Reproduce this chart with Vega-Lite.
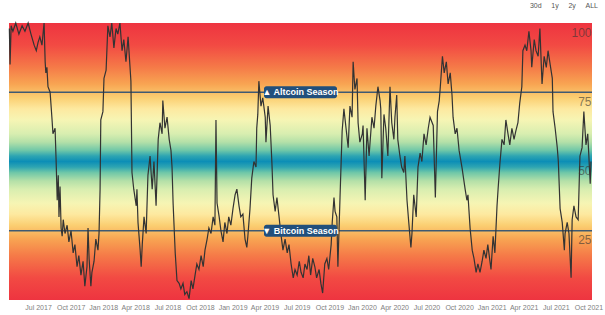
{
  "$schema": "https://vega.github.io/schema/vega-lite/v6.json",
  "autosize": {"type": "none"},
  "width": 583,
  "height": 277,
  "padding": {"left": 9, "top": 23, "right": 13, "bottom": 15},
  "background": "white",
  "view": {"stroke": null},
  "title": {"text": "30d\u00a0\u00a0\u00a0\u00a0\u00a01y\u00a0\u00a0\u00a0\u00a0\u00a02y\u00a0\u00a0\u00a0\u00a0\u00a0ALL", "anchor": "end", "frame": "group", "fontSize": 7, "fontWeight": "normal", "color": "#555", "font": "Liberation Sans", "offset": 6, "dx": 6, "baseline": "alphabetic"},
  "datasets": {
    "series": [
      {"date":"2017-04-11","value":98},{"date":"2017-04-13","value":85},{"date":"2017-04-16","value":99},{"date":"2017-04-21","value":97},{"date":"2017-04-29","value":100},
      {"date":"2017-05-08","value":96},{"date":"2017-05-17","value":99},{"date":"2017-05-25","value":97},{"date":"2017-06-03","value":100},{"date":"2017-06-11","value":96},
      {"date":"2017-06-20","value":92},{"date":"2017-06-26","value":90},{"date":"2017-07-01","value":93},{"date":"2017-07-06","value":95},{"date":"2017-07-12","value":92},
      {"date":"2017-07-18","value":100},{"date":"2017-07-21","value":86},{"date":"2017-07-23","value":82},{"date":"2017-07-26","value":84},{"date":"2017-07-29","value":77},
      {"date":"2017-08-04","value":75},{"date":"2017-08-09","value":66},{"date":"2017-08-12","value":60},{"date":"2017-08-18","value":62},{"date":"2017-08-21","value":50},
      {"date":"2017-08-24","value":36},{"date":"2017-08-27","value":45},{"date":"2017-08-29","value":30},{"date":"2017-09-01","value":41},{"date":"2017-09-04","value":26},
      {"date":"2017-09-07","value":23},{"date":"2017-09-10","value":29},{"date":"2017-09-15","value":24},{"date":"2017-09-21","value":27},{"date":"2017-09-26","value":21},
      {"date":"2017-10-02","value":25},{"date":"2017-10-08","value":17},{"date":"2017-10-13","value":20},{"date":"2017-10-19","value":12},{"date":"2017-10-24","value":16},
      {"date":"2017-10-30","value":9},{"date":"2017-11-05","value":14},{"date":"2017-11-10","value":5},{"date":"2017-11-16","value":12},{"date":"2017-11-19","value":26},
      {"date":"2017-11-22","value":15},{"date":"2017-11-27","value":5},{"date":"2017-11-30","value":10},{"date":"2017-12-06","value":14},{"date":"2017-12-11","value":22},
      {"date":"2017-12-17","value":18},{"date":"2017-12-20","value":24},{"date":"2017-12-23","value":40},{"date":"2017-12-25","value":65},{"date":"2017-12-31","value":68},
      {"date":"2018-01-03","value":80},{"date":"2018-01-09","value":83},{"date":"2018-01-14","value":99},{"date":"2018-01-20","value":95},{"date":"2018-01-25","value":100},
      {"date":"2018-01-31","value":91},{"date":"2018-02-06","value":98},{"date":"2018-02-11","value":96},{"date":"2018-02-17","value":100},{"date":"2018-02-23","value":90},
      {"date":"2018-02-28","value":94},{"date":"2018-03-06","value":86},{"date":"2018-03-12","value":95},{"date":"2018-03-17","value":85},{"date":"2018-03-20","value":79},
      {"date":"2018-03-23","value":46},{"date":"2018-03-28","value":40},{"date":"2018-04-04","value":34},{"date":"2018-04-06","value":40},{"date":"2018-04-09","value":28},
      {"date":"2018-04-15","value":18},{"date":"2018-04-18","value":12},{"date":"2018-04-21","value":20},{"date":"2018-04-26","value":30},{"date":"2018-05-02","value":24},
      {"date":"2018-05-07","value":45},{"date":"2018-05-13","value":52},{"date":"2018-05-19","value":40},{"date":"2018-05-24","value":50},{"date":"2018-05-30","value":34},
      {"date":"2018-06-05","value":58},{"date":"2018-06-10","value":64},{"date":"2018-06-16","value":60},{"date":"2018-06-18","value":72},{"date":"2018-06-24","value":62},
      {"date":"2018-06-30","value":66},{"date":"2018-07-06","value":58},{"date":"2018-07-11","value":54},{"date":"2018-07-14","value":48},{"date":"2018-07-17","value":35},
      {"date":"2018-07-23","value":17},{"date":"2018-07-28","value":7},{"date":"2018-08-03","value":6},{"date":"2018-08-08","value":4},{"date":"2018-08-14","value":6},
      {"date":"2018-08-19","value":2},{"date":"2018-08-25","value":3},{"date":"2018-08-31","value":0.5},{"date":"2018-09-06","value":7},{"date":"2018-09-11","value":4},
      {"date":"2018-09-17","value":9},{"date":"2018-09-22","value":13},{"date":"2018-09-28","value":11},{"date":"2018-10-04","value":16},{"date":"2018-10-10","value":12},
      {"date":"2018-10-15","value":18},{"date":"2018-10-21","value":22},{"date":"2018-10-26","value":26},{"date":"2018-11-01","value":24},{"date":"2018-11-07","value":30},
      {"date":"2018-11-12","value":27},{"date":"2018-11-15","value":65},{"date":"2018-11-18","value":35},{"date":"2018-11-24","value":30},{"date":"2018-11-29","value":25},
      {"date":"2018-12-05","value":21},{"date":"2018-12-10","value":28},{"date":"2018-12-16","value":24},{"date":"2018-12-21","value":30},{"date":"2018-12-27","value":27},
      {"date":"2019-01-02","value":33},{"date":"2019-01-08","value":38},{"date":"2019-01-13","value":40},{"date":"2019-01-19","value":34},{"date":"2019-01-24","value":30},
      {"date":"2019-01-30","value":31},{"date":"2019-02-05","value":22},{"date":"2019-02-10","value":19},{"date":"2019-02-13","value":23},{"date":"2019-02-19","value":33},
      {"date":"2019-02-24","value":44},{"date":"2019-03-02","value":50},{"date":"2019-03-08","value":48},{"date":"2019-03-10","value":62},{"date":"2019-03-13","value":67},
      {"date":"2019-03-16","value":79},{"date":"2019-03-22","value":70},{"date":"2019-03-27","value":73},{"date":"2019-04-03","value":66},{"date":"2019-04-05","value":57},
      {"date":"2019-04-11","value":70},{"date":"2019-04-17","value":63},{"date":"2019-04-22","value":49},{"date":"2019-04-25","value":38},{"date":"2019-05-01","value":32},
      {"date":"2019-05-06","value":37},{"date":"2019-05-12","value":30},{"date":"2019-05-17","value":24},{"date":"2019-05-23","value":18},{"date":"2019-05-29","value":22},
      {"date":"2019-06-04","value":17},{"date":"2019-06-09","value":20},{"date":"2019-06-15","value":13},{"date":"2019-06-21","value":8},{"date":"2019-06-26","value":11},
      {"date":"2019-07-02","value":9},{"date":"2019-07-08","value":14},{"date":"2019-07-13","value":10},{"date":"2019-07-19","value":8},{"date":"2019-07-24","value":13},
      {"date":"2019-07-30","value":11},{"date":"2019-08-04","value":16},{"date":"2019-08-09","value":9},{"date":"2019-08-15","value":15},{"date":"2019-08-21","value":12},
      {"date":"2019-08-26","value":8},{"date":"2019-09-02","value":11},{"date":"2019-09-07","value":6},{"date":"2019-09-12","value":2.5},{"date":"2019-09-18","value":13},
      {"date":"2019-09-24","value":15},{"date":"2019-09-29","value":11},{"date":"2019-10-06","value":20},{"date":"2019-10-09","value":28},{"date":"2019-10-14","value":37},
      {"date":"2019-10-17","value":32},{"date":"2019-10-22","value":30},{"date":"2019-10-25","value":12},{"date":"2019-10-31","value":37},{"date":"2019-11-06","value":61},
      {"date":"2019-11-11","value":69},{"date":"2019-11-17","value":62},{"date":"2019-11-23","value":55},{"date":"2019-11-28","value":70},{"date":"2019-12-04","value":66},
      {"date":"2019-12-07","value":86},{"date":"2019-12-12","value":76},{"date":"2019-12-18","value":80},{"date":"2019-12-21","value":64},{"date":"2019-12-26","value":57},
      {"date":"2020-01-02","value":60},{"date":"2020-01-04","value":63},{"date":"2020-01-10","value":36},{"date":"2020-01-15","value":62},{"date":"2020-01-21","value":52},
      {"date":"2020-01-29","value":66},{"date":"2020-02-04","value":62},{"date":"2020-02-09","value":70},{"date":"2020-02-15","value":77},{"date":"2020-02-21","value":72},
      {"date":"2020-02-23","value":69},{"date":"2020-02-26","value":44},{"date":"2020-03-03","value":67},{"date":"2020-03-08","value":62},{"date":"2020-03-14","value":52},
      {"date":"2020-03-20","value":77},{"date":"2020-03-25","value":64},{"date":"2020-03-31","value":58},{"date":"2020-04-03","value":66},{"date":"2020-04-08","value":74},
      {"date":"2020-04-11","value":58},{"date":"2020-04-17","value":52},{"date":"2020-04-22","value":48},{"date":"2020-04-28","value":46},{"date":"2020-05-01","value":52},
      {"date":"2020-05-07","value":36},{"date":"2020-05-12","value":28},{"date":"2020-05-18","value":19},{"date":"2020-05-21","value":24},{"date":"2020-05-26","value":38},
      {"date":"2020-06-02","value":30},{"date":"2020-06-07","value":48},{"date":"2020-06-13","value":53},{"date":"2020-06-18","value":50},{"date":"2020-06-24","value":60},
      {"date":"2020-06-30","value":56},{"date":"2020-07-06","value":62},{"date":"2020-07-11","value":66},{"date":"2020-07-20","value":63},{"date":"2020-07-26","value":37},
      {"date":"2020-08-01","value":68},{"date":"2020-08-06","value":72},{"date":"2020-08-09","value":77},{"date":"2020-08-15","value":88},{"date":"2020-08-20","value":82},
      {"date":"2020-08-26","value":86},{"date":"2020-08-31","value":78},{"date":"2020-09-06","value":82},{"date":"2020-09-11","value":74},{"date":"2020-09-14","value":66},
      {"date":"2020-09-20","value":60},{"date":"2020-09-25","value":62},{"date":"2020-10-01","value":54},{"date":"2020-10-09","value":48},{"date":"2020-10-18","value":40},
      {"date":"2020-10-23","value":36},{"date":"2020-10-26","value":38},{"date":"2020-11-01","value":26},{"date":"2020-11-07","value":18},{"date":"2020-11-12","value":15},
      {"date":"2020-11-18","value":10},{"date":"2020-11-23","value":13},{"date":"2020-11-29","value":10},{"date":"2020-12-05","value":14},{"date":"2020-12-10","value":18},
      {"date":"2020-12-16","value":15},{"date":"2020-12-21","value":20},{"date":"2020-12-24","value":17},{"date":"2020-12-30","value":11},{"date":"2021-01-05","value":23},
      {"date":"2021-01-10","value":17},{"date":"2021-01-16","value":34},{"date":"2021-01-19","value":40},{"date":"2021-01-24","value":49},{"date":"2021-01-30","value":58},
      {"date":"2021-02-05","value":56},{"date":"2021-02-10","value":65},{"date":"2021-02-16","value":60},{"date":"2021-02-21","value":56},{"date":"2021-02-27","value":62},
      {"date":"2021-03-05","value":58},{"date":"2021-03-10","value":61},{"date":"2021-03-16","value":64},{"date":"2021-03-21","value":71},{"date":"2021-03-27","value":77},
      {"date":"2021-03-30","value":90},{"date":"2021-04-05","value":92},{"date":"2021-04-10","value":90},{"date":"2021-04-16","value":97},{"date":"2021-04-22","value":90},
      {"date":"2021-04-24","value":84},{"date":"2021-05-01","value":94},{"date":"2021-05-06","value":90},{"date":"2021-05-12","value":88},{"date":"2021-05-17","value":98},
      {"date":"2021-05-23","value":78},{"date":"2021-05-29","value":88},{"date":"2021-06-04","value":84},{"date":"2021-06-09","value":90},{"date":"2021-06-15","value":85},
      {"date":"2021-06-21","value":80},{"date":"2021-06-23","value":68},{"date":"2021-06-29","value":62},{"date":"2021-07-05","value":55},{"date":"2021-07-08","value":50},
      {"date":"2021-07-13","value":33},{"date":"2021-07-19","value":28},{"date":"2021-07-25","value":18},{"date":"2021-07-27","value":24},{"date":"2021-08-02","value":28},
      {"date":"2021-08-07","value":24},{"date":"2021-08-13","value":8},{"date":"2021-08-16","value":29},{"date":"2021-08-21","value":34},{"date":"2021-08-27","value":30},
      {"date":"2021-09-02","value":29},{"date":"2021-09-07","value":52},{"date":"2021-09-13","value":55},{"date":"2021-09-18","value":68},{"date":"2021-09-24","value":56},
      {"date":"2021-09-29","value":60},{"date":"2021-10-06","value":42},{"date":"2021-10-08","value":50}
    ],
    "thresholds": [
      {"season": "▲ Altcoin Season", "level": 75},
      {"season": "▼ Bitcoin Season", "level": 25}
    ]
  },
  "layer": [
    {
      "data": {"values": [{"band": "background"}]},
      "mark": {"type": "rect", "fill": {"gradient": "linear", "x1": 0, "y1": 0, "x2": 0, "y2": 1, "stops": [
        {"offset": 0, "color": "#ee3440"},
        {"offset": 0.08, "color": "#f24a43"},
        {"offset": 0.16, "color": "#f57a48"},
        {"offset": 0.22, "color": "#f8a452"},
        {"offset": 0.27, "color": "#fbcf72"},
        {"offset": 0.31, "color": "#fde9a0"},
        {"offset": 0.35, "color": "#f6f5b4"},
        {"offset": 0.40, "color": "#d8eeb0"},
        {"offset": 0.43, "color": "#b4e0a8"},
        {"offset": 0.46, "color": "#6fc7a8"},
        {"offset": 0.48, "color": "#2ea5b2"},
        {"offset": 0.50, "color": "#0c8eb6"},
        {"offset": 0.52, "color": "#2ea5b2"},
        {"offset": 0.54, "color": "#6fc7a8"},
        {"offset": 0.57, "color": "#b4e0a8"},
        {"offset": 0.60, "color": "#d8eeb0"},
        {"offset": 0.65, "color": "#f6f5b4"},
        {"offset": 0.69, "color": "#fde9a0"},
        {"offset": 0.73, "color": "#fbcf72"},
        {"offset": 0.78, "color": "#f8a452"},
        {"offset": 0.84, "color": "#f57a48"},
        {"offset": 0.92, "color": "#f24a43"},
        {"offset": 1, "color": "#ee3440"}
      ]}},
      "encoding": {
        "y": {"datum": 100, "type": "quantitative", "axis": {"title": null}},
        "y2": {"datum": 0}
      }
    },
    {
      "data": {"name": "thresholds"},
      "mark": {"type": "rule", "color": "#3f5a72", "strokeWidth": 1.3},
      "encoding": {
        "y": {"field": "level", "type": "quantitative", "axis": {"title": null}}
      }
    },
    {
      "data": {"name": "series"},
      "mark": {"type": "line", "color": "#333333", "strokeWidth": 1.2, "interpolate": "linear"},
      "encoding": {
        "x": {
          "field": "date", "type": "temporal",
          "scale": {"domain": [{"year": 2017, "month": 4, "date": 10}, {"year": 2021, "month": 10, "date": 11}], "nice": false},
          "axis": {"title": null, "format": "%b %Y", "tickCount": {"interval": "month", "step": 3}, "grid": false, "domain": false, "ticks": false, "labelFontSize": 7, "labelColor": "#808080", "labelFont": "Liberation Sans", "labelPadding": 3, "labelOverlap": false, "labelFlush": false}
        },
        "y": {
          "field": "value", "type": "quantitative",
          "scale": {"domain": [0, 100], "nice": false, "zero": true},
          "axis": {"title": null, "orient": "right", "zindex": 1, "values": [25, 50, 75, 100], "grid": false, "domain": false, "ticks": false, "tickSize": 0, "labelAlign": "right", "labelBaseline": "top", "labelOffset": 4, "labelPadding": -1, "labelFontSize": 12, "labelFont": "Liberation Sans", "labelColor": "#333", "labelOpacity": 0.6}
        }
      }
    },
    {
      "data": {"name": "thresholds"},
      "mark": {"type": "point", "shape": "M-0.932,-0.164 H0.932 A0.068,0.068 0 0 1 1,-0.096 V0.096 A0.068,0.068 0 0 1 0.932,0.164 H-0.932 A0.068,0.068 0 0 1 -1,0.096 V-0.096 A0.068,0.068 0 0 1 -0.932,-0.164 Z", "size": 5329, "filled": true, "opacity": 1, "color": "#214f7c"},
      "encoding": {
        "y": {"field": "level", "type": "quantitative", "axis": {"title": null}}
      }
    },
    {
      "data": {"name": "thresholds"},
      "mark": {"type": "text", "color": "white", "fontSize": 9, "fontWeight": "bold", "font": "Liberation Sans", "baseline": "middle", "align": "center"},
      "encoding": {
        "y": {"field": "level", "type": "quantitative", "axis": {"title": null}},
        "text": {"field": "season"}
      }
    }
  ]
}
